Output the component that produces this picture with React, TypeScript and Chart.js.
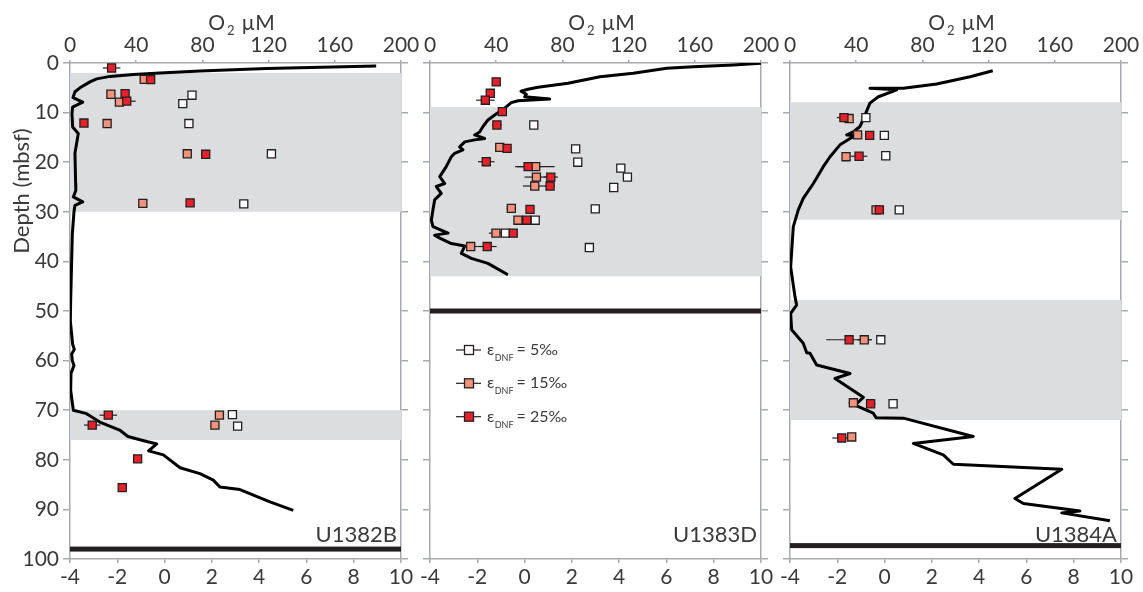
import React, { useEffect, useRef } from "react";
import { Chart, registerables } from "chart.js";

Chart.register(...registerables);

// ---------------- data ----------------
// U1382B : O2 profile (µM) vs depth (mbsf)
const U1382B_O2 = [185, 118.8, 78.5, 54.4, 38.3, 24.2, 16.1, 12.1, 6.0, 3.0, 1.8, 7.7, 1.6, 1.2, 1.6, 5.0, 3.0, 3.4, 3.5, 2.0, 7.7, 3.0, 2.4, 1.4, 0.4, 0.4, 0.0, 1.6, 2.6, 1.0, 1.4, 2.4, 0.6, 0.4, 0.8, 2.0, 10.0, 18.0, 30.0, 35.0, 44.0, 52.4, 50.3, 47.5, 56.4, 66.5, 78.5, 86.6, 90.6, 102.7, 120.8, 134.9];
const U1382B_O2_DEPTH = [0.6, 1.1, 1.6, 2.0, 2.3, 2.7, 3.2, 3.8, 5.0, 5.8, 7.0, 7.9, 8.9, 10.2, 12.9, 14.2, 18.2, 24.3, 25.7, 27.0, 28.0, 28.7, 30.0, 34.5, 47.9, 50.5, 52.0, 56.7, 57.7, 58.7, 60.0, 61.0, 62.6, 66.0, 67.0, 70.0, 70.7, 72.4, 74.0, 75.3, 76.1, 76.8, 77.4, 78.2, 79.0, 81.6, 82.8, 84.1, 85.5, 86.0, 88.5, 90.2];
const U1382B_E25 = [-2.24, -0.59, -1.67, -1.6, -3.41, 1.74, 1.08, -2.38, -3.06, -1.14, -1.79];
const U1382B_E25_DEPTH = [1.0, 3.35, 6.2, 7.7, 12.1, 18.4, 28.2, 71.0, 73.0, 79.8, 85.6];
const U1382B_E25_ERR = [0.37, 0, 0, 0.38, 0, 0, 0, 0.37, 0.35, 0, 0];
const U1382B_E15 = [-0.86, -2.27, -1.91, -2.43, 0.96, -0.92, 2.32, 2.13];
const U1382B_E15_DEPTH = [3.3, 6.3, 7.9, 12.2, 18.3, 28.3, 71.0, 73.0];
const U1382B_E15_ERR = [0, 0, 0, 0, 0, 0, 0, 0];
const U1382B_E5 = [1.16, 0.77, 1.03, 4.52, 3.35, 2.87, 3.09];
const U1382B_E5_DEPTH = [6.5, 8.2, 12.2, 18.3, 28.4, 70.9, 73.2];
const U1382B_E5_ERR = [0, 0, 0, 0, 0, 0, 0];
const U1382B_BANDS = [[2, 30], [70, 76]];
const U1382B_BASE = 98;

// U1383D
const U1383D_O2 = [200, 183.3, 159.1, 143.0, 122.8, 102.7, 83.4, 65.3, 59.2, 55.0, 58.2, 57.2, 72.3, 53.2, 49.1, 45.1, 39.1, 35.0, 32.0, 30.0, 27.0, 33.0, 27.0, 21.0, 17.9, 19.9, 14.9, 12.9, 9.8, 5.9, 8.9, 3.8, 6.8, 2.8, 1.8, 0.8, 1.8, 10.9, 2.8, 5.9, 12.9, 21.0, 18.9, 25.0, 35.0, 47.1];
const U1383D_O2_DEPTH = [0.06, 0.4, 0.75, 1.07, 2.08, 2.76, 4.09, 4.9, 5.3, 5.7, 6.3, 6.8, 7.26, 7.6, 8.0, 9.1, 10.5, 11.5, 12.8, 13.9, 14.5, 15.2, 15.5, 15.9, 16.9, 17.5, 18.2, 18.9, 20.9, 22.9, 24.3, 24.9, 26.3, 27.6, 29.6, 31.7, 33.0, 34.3, 34.7, 35.3, 36.4, 36.9, 38.4, 39.4, 40.4, 42.7];
const U1383D_E25 = [-1.2, -1.45, -1.66, -0.94, -1.17, -0.74, -1.62, 0.15, 1.11, 1.08, 0.23, 0.09, -0.48, -1.58];
const U1383D_E25_DEPTH = [3.8, 6.1, 7.5, 9.8, 12.5, 17.2, 19.9, 20.9, 23.0, 24.8, 29.5, 31.7, 34.3, 37.0];
const U1383D_E25_ERR = [0, 0, 0.39, 0, 0.2, 0, 0.35, 0.55, 0.3, 0.2, 0, 0, 0, 0.4];
const U1383D_E15 = [-1.05, 0.47, 0.5, 0.43, -0.56, -0.28, -1.21, -2.28];
const U1383D_E15_DEPTH = [17.0, 20.9, 23.0, 24.8, 29.3, 31.7, 34.3, 37.0];
const U1383D_E15_ERR = [0, 0.8, 0.5, 0.5, 0.2, 0, 0.3, 0.3];
const U1383D_E5 = [0.39, 2.16, 2.25, 4.07, 4.35, 3.77, 2.99, 0.45, -0.81, 2.74];
const U1383D_E5_DEPTH = [12.5, 17.3, 20.0, 21.2, 23.0, 25.1, 29.4, 31.7, 34.3, 37.2];
const U1383D_E5_ERR = [0, 0, 0, 0, 0, 0, 0, 0, 0, 0];
const U1383D_BANDS = [[8.9, 43]];
const U1383D_BASE = 50;

// U1384A
const U1384A_O2 = [122.5, 108.8, 88.6, 68.5, 48.3, 64.5, 53.4, 48.3, 45.3, 42.3, 38.2, 34.3, 40.3, 36.3, 30.2, 24.2, 20.1, 16.1, 14.1, 8.0, 5.0, 2.0, 1.2, 0.4, 3.0, 4.0, 0.4, 1.0, 8.0, 10.1, 12.1, 16.1, 36.3, 27.2, 44.3, 39.3, 50.3, 52.0, 68.5, 110.7, 74.5, 92.6, 98.7, 164.2, 135.9, 141.0, 175.2, 164.2, 193.3];
const U1384A_O2_DEPTH = [1.55, 2.76, 4.23, 5.1, 5.1, 5.4, 6.8, 8.1, 10.5, 12.8, 13.9, 14.5, 14.6, 15.2, 16.5, 18.9, 20.9, 23.2, 24.3, 27.3, 29.6, 33.0, 37.0, 41.1, 47.1, 48.8, 50.5, 53.8, 56.5, 58.4, 58.5, 60.9, 62.6, 63.6, 67.4, 69.0, 70.6, 71.5, 71.6, 75.3, 76.7, 79.0, 80.9, 81.9, 87.8, 88.8, 90.3, 90.7, 92.3];
const U1384A_E25 = [-1.72, -0.63, -1.08, -0.22, -1.5, -0.59, -1.81];
const U1384A_E25_DEPTH = [11.0, 14.6, 18.8, 29.6, 55.8, 68.7, 75.6];
const U1384A_E25_ERR = [0.3, 0, 0.35, 0, 0.97, 0.2, 0.4];
const U1384A_E15 = [-1.5, -1.14, -1.63, -0.36, -0.86, -1.32, -1.39];
const U1384A_E15_DEPTH = [11.2, 14.5, 18.9, 29.6, 55.8, 68.5, 75.4];
const U1384A_E15_ERR = [0, 0, 0, 0, 0.3, 0.2, 0];
const U1384A_E5 = [-0.79, -0.01, 0.05, 0.62, -0.16, 0.36];
const U1384A_E5_DEPTH = [11.0, 14.6, 18.7, 29.6, 55.8, 68.7];
const U1384A_E5_ERR = [0, 0, 0, 0, 0, 0];
const U1384A_BANDS = [[7.9, 31.6], [47.8, 72]];
const U1384A_BASE = 97.3;

const LEGEND_LABELS = ["5", "15", "25"];

// ---------------- style / layout ----------------
const W = 1143;
const H = 592;
const TOP = 63;
const BOTTOM = 33;
const FONT = "Lato, 'Open Sans', sans-serif";
const TEXT = "#3a3a3a";
const AXIS = "#a7a9ac";
const BAND = "#dcdddf";
const EDGE = "#231f20";
const C_E5 = "#ffffff";
const C_E15 = "#f4937b";
const C_E25 = "#e8202a";

Chart.defaults.font.family = FONT;

type Series = { vals: number[]; depth: number[]; err: number[]; color: string };
type PanelDef = {
  site: string;
  left: number;
  right: number;
  yLabels: boolean;
  legend: boolean;
  o2: number[];
  o2Depth: number[];
  series: Series[]; // drawing order: 5, 15, 25
  bands: number[][];
  base: number;
};

const PANELS: PanelDef[] = [
  {
    site: "U1382B", left: 70, right: 401, yLabels: true, legend: false,
    o2: U1382B_O2, o2Depth: U1382B_O2_DEPTH,
    series: [
      { vals: U1382B_E5, depth: U1382B_E5_DEPTH, err: U1382B_E5_ERR, color: C_E5 },
      { vals: U1382B_E15, depth: U1382B_E15_DEPTH, err: U1382B_E15_ERR, color: C_E15 },
      { vals: U1382B_E25, depth: U1382B_E25_DEPTH, err: U1382B_E25_ERR, color: C_E25 },
    ],
    bands: U1382B_BANDS, base: U1382B_BASE,
  },
  {
    site: "U1383D", left: 430, right: 761, yLabels: false, legend: true,
    o2: U1383D_O2, o2Depth: U1383D_O2_DEPTH,
    series: [
      { vals: U1383D_E5, depth: U1383D_E5_DEPTH, err: U1383D_E5_ERR, color: C_E5 },
      { vals: U1383D_E15, depth: U1383D_E15_DEPTH, err: U1383D_E15_ERR, color: C_E15 },
      { vals: U1383D_E25, depth: U1383D_E25_DEPTH, err: U1383D_E25_ERR, color: C_E25 },
    ],
    bands: U1383D_BANDS, base: U1383D_BASE,
  },
  {
    site: "U1384A", left: 790, right: 1121, yLabels: false, legend: false,
    o2: U1384A_O2, o2Depth: U1384A_O2_DEPTH,
    series: [
      { vals: U1384A_E5, depth: U1384A_E5_DEPTH, err: U1384A_E5_ERR, color: C_E5 },
      { vals: U1384A_E15, depth: U1384A_E15_DEPTH, err: U1384A_E15_ERR, color: C_E15 },
      { vals: U1384A_E25, depth: U1384A_E25_DEPTH, err: U1384A_E25_ERR, color: C_E25 },
    ],
    bands: U1384A_BANDS, base: U1384A_BASE,
  },
];

const LEGEND_COLORS = [C_E5, C_E15, C_E25];

function zip(xs: number[], ys: number[]) {
  return xs.map((x, i) => ({ x, y: ys[i] }));
}

function makePlugin(def: PanelDef) {
  return {
    id: "panelDecor" + def.site,
    beforeDatasetsDraw(chart: any) {
      const { ctx, chartArea: a, scales } = chart;
      const ys = scales.y;
      ctx.save();
      ctx.fillStyle = BAND;
      for (const [t, b] of def.bands) {
        const y1 = ys.getPixelForValue(t);
        const y2 = ys.getPixelForValue(b);
        ctx.fillRect(a.left, y1, a.right - a.left, y2 - y1);
      }
      const yb = ys.getPixelForValue(def.base);
      ctx.fillStyle = EDGE;
      ctx.fillRect(a.left, yb - 2.5, a.right - a.left, 5);
      ctx.restore();
    },
    afterDatasetDraw(chart: any, args: any) {
      // error bars: drawn right after the O2 line, beneath the markers
      if (args.index !== 0) return;
      const { ctx, scales } = chart;
      const ys = scales.y;
      const xs = scales.x;
      ctx.save();
      ctx.strokeStyle = EDGE;
      ctx.lineWidth = 1.2;
      for (const s of def.series) {
        s.vals.forEach((v, i) => {
          const e = s.err[i];
          if (!e) return;
          const py = ys.getPixelForValue(s.depth[i]);
          ctx.beginPath();
          ctx.moveTo(xs.getPixelForValue(v - e), py);
          ctx.lineTo(xs.getPixelForValue(v + e), py);
          ctx.stroke();
        });
      }
      ctx.restore();
    },
    afterDraw(chart: any) {
      const { ctx, chartArea: a } = chart;
      ctx.save();
      ctx.fillStyle = TEXT;
      ctx.textBaseline = "alphabetic";
      // O2 µM title
      const big = `21px ${FONT}`;
      const small = `13px ${FONT}`;
      ctx.font = big;
      const wO = ctx.measureText("O").width;
      const wR = ctx.measureText("µM").width;
      ctx.font = small;
      const w2 = ctx.measureText("2").width;
      const gap1 = 2;
      const gap2 = 7;
      const total = wO + gap1 + w2 + gap2 + wR;
      const cx = (a.left + a.right) / 2 + 6;
      const x0 = cx - total / 2;
      ctx.textAlign = "left";
      ctx.font = big;
      ctx.fillText("O", x0, 30);
      ctx.font = small;
      ctx.fillText("2", x0 + wO + gap1, 35);
      ctx.font = big;
      ctx.fillText("µM", x0 + wO + gap1 + w2 + gap2, 30);

      // site label
      ctx.font = `22px ${FONT}`;
      ctx.textAlign = "right";
      ctx.fillText(def.site, a.right - 4, 542);

      // y title
      if (def.yLabels) {
        ctx.save();
        ctx.translate(22, 191);
        ctx.rotate(-Math.PI / 2);
        ctx.textAlign = "center";
        ctx.textBaseline = "middle";
        ctx.font = `22px ${FONT}`;
        ctx.fillText("Depth (mbsf)", 0, 0);
        ctx.restore();
      }

      // legend
      if (def.legend) {
        const rows = [a.top + 287, a.top + 320.3, a.top + 353.7];
        rows.forEach((ry, i) => {
          const lx = a.left + 26;
          ctx.strokeStyle = EDGE;
          ctx.lineWidth = 1.2;
          ctx.beginPath();
          ctx.moveTo(lx, ry);
          ctx.lineTo(lx + 25, ry);
          ctx.stroke();
          const mx = lx + 13;
          ctx.fillStyle = LEGEND_COLORS[i];
          ctx.fillRect(mx - 4.5, ry - 4.5, 9, 9);
          ctx.lineWidth = 1.3;
          ctx.strokeRect(mx - 4.5, ry - 4.5, 9, 9);
          ctx.fillStyle = TEXT;
          ctx.textAlign = "left";
          let tx = a.left + 57;
          ctx.font = `16px ${FONT}`;
          ctx.fillText("ε", tx, ry + 5);
          tx += ctx.measureText("ε").width + 0.5;
          ctx.font = `9px ${FONT}`;
          ctx.fillText("DNF", tx, ry + 11);
          tx += ctx.measureText("DNF").width + 3;
          ctx.font = `16px ${FONT}`;
          ctx.fillText(`= ${LEGEND_LABELS[i]}‰`, tx, ry + 5);
        });
      }
      ctx.restore();
    },
  };
}

function buildConfig(def: PanelDef): any {
  const datasets: any[] = [
    {
      label: "O2",
      data: zip(def.o2, def.o2Depth),
      xAxisID: "x2",
      yAxisID: "y",
      showLine: true,
      borderColor: "#000000",
      borderWidth: 3,
      pointRadius: 0,
      fill: false,
      tension: 0,
      order: 10,
      borderJoinStyle: "round",
    },
  ];
  def.series.forEach((s, i) => {
    datasets.push({
      label: "s" + i,
      data: zip(s.vals, s.depth),
      xAxisID: "x",
      yAxisID: "y",
      showLine: false,
      pointStyle: "rect",
      pointRadius: 5.7,
      pointBackgroundColor: s.color,
      pointBorderColor: EDGE,
      pointBorderWidth: 1.3,
      order: 3 - i,
    });
  });

  const tickFont = { family: FONT, size: 21 };
  const grid = (len: number) => ({
    drawOnChartArea: false,
    drawTicks: true,
    tickLength: len,
    color: AXIS,
    lineWidth: 1.5,
  });
  const border = { display: true, color: AXIS, width: 1.5 };

  return {
    type: "scatter",
    data: { datasets },
    options: {
      responsive: false,
      maintainAspectRatio: false,
      animation: false,
      events: [],
      layout: { padding: 0 },
      plugins: {
        legend: { display: false },
        tooltip: { enabled: false },
        title: { display: false },
      },
      scales: {
        x: {
          type: "linear",
          position: "bottom",
          min: -4,
          max: 10,
          z: 1,
          ticks: { stepSize: 2, autoSkip: false, maxRotation: 0, font: tickFont, color: TEXT, padding: 2 },
          grid: grid(4),
          border,
          afterFit: (s: any) => { s.height = BOTTOM; },
        },
        x2: {
          type: "linear",
          position: "top",
          min: 0,
          max: 200,
          z: 1,
          ticks: { stepSize: 40, autoSkip: false, maxRotation: 0, font: tickFont, color: TEXT, padding: 2 },
          grid: grid(3),
          border,
          afterFit: (s: any) => { s.height = TOP; },
        },
        y: {
          type: "linear",
          position: "left",
          reverse: true,
          min: 0,
          max: 100,
          z: 1,
          ticks: { stepSize: 10, autoSkip: false, display: def.yLabels, font: tickFont, color: TEXT, padding: 4 },
          grid: grid(7),
          border,
          afterFit: (s: any) => { s.width = def.left; },
        },
        y2: {
          type: "linear",
          position: "right",
          reverse: true,
          min: 0,
          max: 100,
          z: 1,
          ticks: { stepSize: 10, display: false },
          grid: grid(7),
          border,
          afterFit: (s: any) => { s.width = W - def.right; },
        },
      },
    },
    plugins: [makePlugin(def)],
  };
}

function Panel({ def }: { def: PanelDef }) {
  const ref = useRef<HTMLCanvasElement | null>(null);
  useEffect(() => {
    if (!ref.current) return;
    const chart = new Chart(ref.current, buildConfig(def));
    return () => chart.destroy();
  }, [def]);
  return (
    <canvas
      ref={ref}
      width={W}
      height={H}
      style={{ position: "absolute", left: 0, top: 0, width: W, height: H }}
    />
  );
}

export default function App() {
  return (
    <div style={{ position: "absolute", left: 0, top: 0, width: W, height: H, background: "#ffffff" }}>
      {PANELS.map((p) => (
        <Panel key={p.site} def={p} />
      ))}
    </div>
  );
}
